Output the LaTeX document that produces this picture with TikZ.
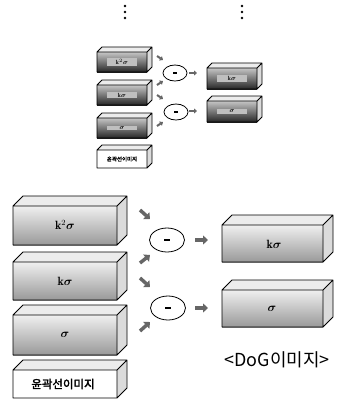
\documentclass[tikz,border=0pt]{standalone}
\usepackage{fontspec,amsmath}
\usepackage{tikz}
\usetikzlibrary{arrows.meta,shapes.geometric}
\newfontfamily\kr{Noto Sans CJK KR}[AutoFakeBold=2.5]

\newcommand{\slab}[6]{%
 \fill[gray!15] (#1,#2) -- ++(#5,-#5) -- ++(#3,0) -- ++(-#5,#5) -- cycle;
 \fill[gray!28] (#1+#3,#2) -- ++(#5,-#5) -- ++(0,#4) -- ++(-#5,#5) -- cycle;
 \shade[#6] (#1,#2) rectangle ++(#3,#4);
 \draw[line width=.9pt,line join=round] (#1,#2) -- ++(#5,-#5) -- ++(#3,0) -- ++(0,#4) -- ++(-#5,#5) -- ++(-#3,0) -- cycle
  (#1,#2) -- ++(#3,0) -- ++(#5,-#5) (#1+#3,#2) -- ++(0,#4);
}

\begin{document}
\begin{tikzpicture}[x=1bp,y=-1bp,
 lit/.style={top color=gray!12,bottom color=gray!80},
 dark/.style={top color=gray!45,bottom color=black!85},
 plain/.style={top color=white,bottom color=white},
 tag/.style={font=\bfseries\fontsize{12}{13}\selectfont},
 tinytag/.style={font=\bfseries\fontsize{6}{7}\selectfont,fill=gray!50,inner sep=1bp,minimum width=30bp},
 op/.style={ellipse,draw,line width=.8pt,minimum width=35bp,minimum height=24bp,inner sep=0pt},
 smallop/.style={op,minimum width=24bp,minimum height=16bp},
 blob/.style={black!60,line width=3.5bp,-{Triangle[length=5bp,width=9bp]}},
 smallblob/.style={black!60,line width=2bp,-{Triangle[length=3bp,width=5bp]}}]
\useasboundingbox (0,0) rectangle (337,408);
\foreach \x in {125,242}
 \foreach \y in {6,12,18}
  \fill (\x,\y) circle (1.4);
\slab{97}{52}{50}{20}{5}{dark}
\slab{97}{85}{50}{20}{5}{dark}
\slab{97}{118}{50}{20}{5}{dark}
\slab{97}{150}{50}{18}{5}{plain}
\slab{207}{68}{50}{21}{5}{dark}
\slab{207}{101}{50}{21}{5}{dark}
\node[tinytag] (sk2) at (122,62) {$\mathbf{k}^2\boldsymbol{\sigma}$};
\node[tinytag] (sk1) at (122,95) {$\mathbf{k}\boldsymbol{\sigma}$};
\node[tinytag] (ss) at (122,128) {$\boldsymbol{\sigma}$};
\node[font=\kr\bfseries\fontsize{5.5}{6}\selectfont] (sedge) at (122,159) {윤곽선이미지};
\node[tinytag] (sdk) at (232,78.5) {$\mathbf{k}\boldsymbol{\sigma}$};
\node[tinytag] (sds) at (232,111.5) {$\boldsymbol{\sigma}$};
\node[smallop] (sm1) at (175,73) {\rule{4bp}{1.5bp}};
\node[smallop] (sm2) at (176,112) {\rule{4bp}{1.5bp}};
\slab{13}{206}{104}{39}{10}{lit}
\slab{13}{262}{104}{38}{10}{lit}
\slab{13}{315}{104}{40}{10}{lit}
\slab{13}{370}{104}{28}{10}{plain}
\slab{222}{225}{101}{37}{10}{lit}
\slab{222}{290}{101}{37}{10}{lit}
\node[tag] (k2) at (65,225) {$\mathbf{k}^2\boldsymbol{\sigma}$};
\node[tag] (k1) at (65,281) {$\mathbf{k}\boldsymbol{\sigma}$};
\node[tag] (s0) at (65,335) {$\boldsymbol{\sigma}$};
\node[font=\kr\bfseries\fontsize{11.5}{13}\selectfont] (edge) at (63,384) {윤곽선이미지};
\node[tag] (dk) at (274,244) {$\mathbf{k}\boldsymbol{\sigma}$};
\node[tag] (ds) at (272,309) {$\boldsymbol{\sigma}$};
\node[op] (m1) at (167,240) {\rule{6bp}{2.2bp}};
\node[op] (m2) at (168,308) {\rule{6bp}{2.2bp}};
\node[font=\kr\fontsize{18}{20}\selectfont] (dog) at (277,360) {<DoG이미지>};
\foreach \n/\sx/\sy/\ex/\ey in {1/140/210/150/219,2/140/263/150/255,3/140/278/150/287,4/140/331/150/322,5/195/240/208/240,6/195/308/208/308}{
 \coordinate (s\n) at (\sx,\sy);
 \coordinate (e\n) at (\ex,\ey);
 \draw[blob] (s\n) -- (e\n);
}
\foreach \n/\sx/\sy/\ex/\ey in {1/157/56/163/60,2/157/85/163/81,3/157/95/163/99,4/157/126/163/122,5/189/73/197/73,6/189/111/197/111}{
 \coordinate (t\n) at (\sx,\sy);
 \coordinate (u\n) at (\ex,\ey);
 \draw[smallblob] (t\n) -- (u\n);
}
\end{tikzpicture}
\end{document}
